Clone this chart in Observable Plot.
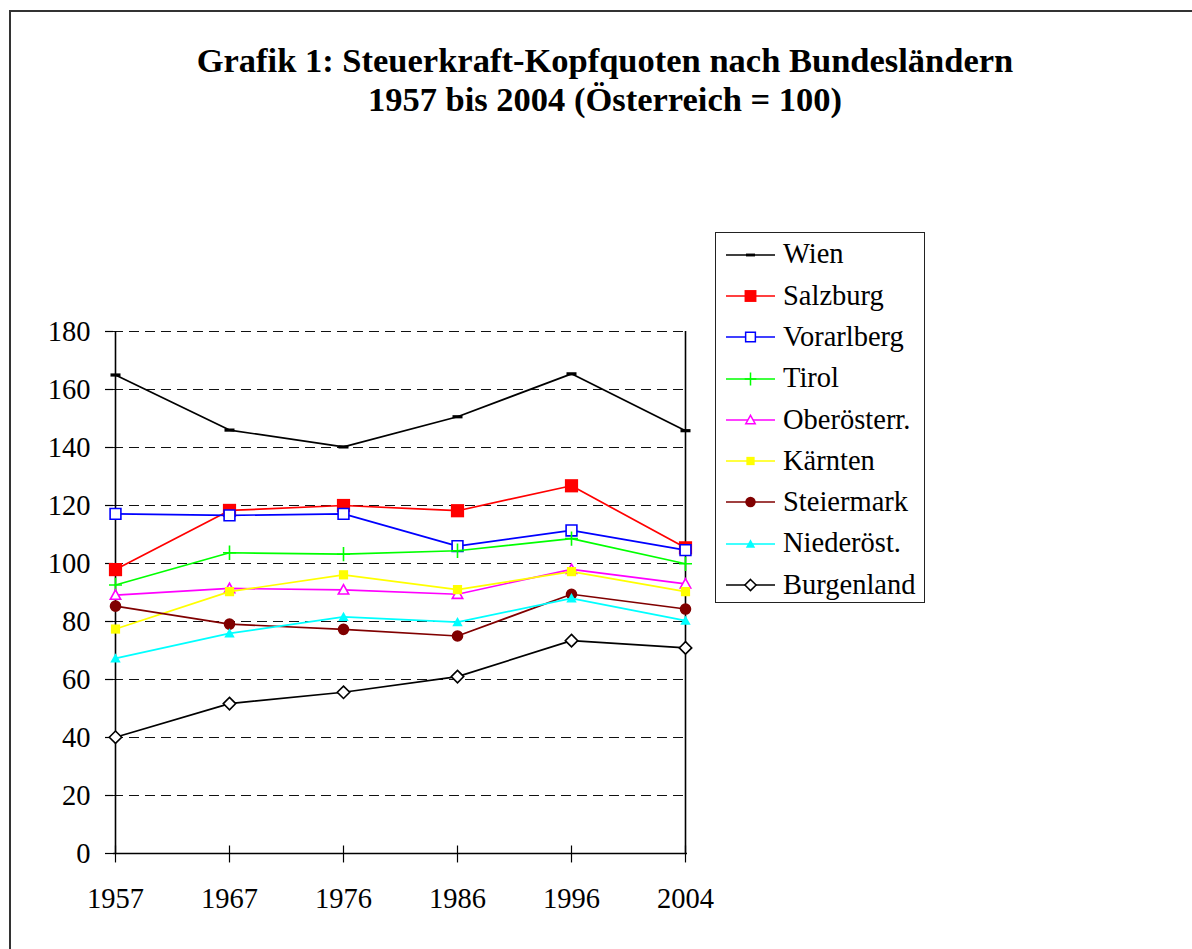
<!DOCTYPE html>
<html>
<head>
<meta charset="utf-8">
<script src="https://cdn.jsdelivr.net/npm/d3@7"></script>
<script src="https://cdn.jsdelivr.net/npm/@observablehq/plot@0.6"></script>
<style>
  html, body { margin: 0; padding: 0; background: #fff; }
  #page { position: relative; width: 1192px; height: 949px; overflow: hidden; background: #fff;
          font-family: "Liberation Serif", "Times New Roman", serif; color: #000; }
  #frame { position: absolute; left: 9px; top: 10px; width: 1300px; height: 1100px;
           border-top: 2px solid #333; border-left: 2px solid #333; }
  #title { position: absolute; left: 10px; width: 1190px; top: 41px; text-align: center;
           font-weight: bold; font-size: 34.5px; line-height: 39px; }
  #chart { position: absolute; left: 0; top: 0; }
  #legend { position: absolute; left: 715px; top: 232px; width: 210px; height: 371px;
            border: 1px solid #222; box-sizing: border-box; padding-top: 1px; background: #fff; }
  .row { display: flex; align-items: center; height: 41.3px; }
  .row svg { margin-left: 9px; flex: none; }
  .row span { margin-left: 6px; font-size: 28.5px; line-height: 1; white-space: nowrap; }
</style>
</head>
<body>
<div id="page">
  <div id="frame"></div>
  <div id="chart"></div>
  <div id="title"></div>
  <div id="legend"></div>
</div>
<script>
// ---- data ----
const titleLines = ["Grafik 1: Steuerkraft-Kopfquoten nach Bundesländern", "1957 bis 2004 (Österreich = 100)"];
const years = ["1957", "1967", "1976", "1986", "1996", "2004"];
const yTicks = [0, 20, 40, 60, 80, 100, 120, 140, 160, 180];
const seriesNames = ["Wien", "Salzburg", "Vorarlberg", "Tirol", "Oberösterr.", "Kärnten", "Steiermark", "Niederöst.", "Burgenland"];
const wien       = [165, 146, 140.2, 150.6, 165.4, 145.8];
const salzburg   = [97.9, 118.3, 120, 118.2, 126.8, 105.4];
const vorarlberg = [117.1, 116.6, 117.1, 106, 111.4, 104.6];
const tirol      = [92.6, 103.7, 103.2, 104.4, 108.6, 99.9];
const oberoest   = [89.1, 91.4, 90.9, 89.4, 98, 93];
const kaernten   = [77.4, 90.3, 96.1, 91, 97.2, 90.3];
const steiermark = [85.3, 79.1, 77.3, 75, 89.4, 84.3];
const niederoest = [67.3, 75.9, 81.6, 79.8, 88, 80.3];
const burgenland = [40.1, 51.7, 55.6, 61, 73.4, 70.9];
const seriesValues = [wien, salzburg, vorarlberg, tirol, oberoest, kaernten, steiermark, niederoest, burgenland];

// ---- styles ----
const seriesColors = ["#000000", "#ff0000", "#0000ff", "#00ff00", "#ff00ff", "#ffff00", "#800000", "#00ffff", "#000000"];
const seriesSymbols = ["dash", "square", "square", "plus", "triangle", "square", "circle", "triangle", "diamond"];
const seriesFilled = [true, true, false, false, false, true, true, true, false];
const seriesR = [5, 6.6, 5.4, 6.5, 5.2, 4.6, 5.8, 5.2, 6.2];

const shape = (f) => ({draw: (ctx, size) => f(ctx, Math.sqrt(size / Math.PI))});
const symbols = {
  dash: shape((c, r) => { c.rect(-r, -r * 0.32, 2 * r, r * 0.64); }),
  square: shape((c, r) => { c.rect(-r, -r, 2 * r, 2 * r); }),
  plus: shape((c, r) => { c.moveTo(0, -r * 1.1); c.lineTo(0, r * 1.1); c.moveTo(-r, 0); c.lineTo(r, 0); }),
  triangle: shape((c, r) => { c.moveTo(0, -r); c.lineTo(r, r * 0.8); c.lineTo(-r, r * 0.8); c.closePath(); }),
  diamond: shape((c, r) => { c.moveTo(0, -r); c.lineTo(r, 0); c.lineTo(0, r); c.lineTo(-r, 0); c.closePath(); }),
  circle: shape((c, r) => { c.moveTo(r, 0); c.arc(0, 0, r, 0, 2 * Math.PI); }),
  vtick: shape((c, r) => { c.moveTo(0, -r); c.lineTo(0, r * 1.12); })
};

// ---- build rows ----
const seriesRows = seriesNames.map((name, s) => years.map((year, i) => ({series: name, year, value: seriesValues[s][i]})));

const marks = [
  Plot.gridY(yTicks.filter(v => v > 0), {stroke: "#111", strokeOpacity: 1, strokeWidth: 1.2, strokeDasharray: "10,6"}),
  Plot.ruleY([0], {stroke: "#000", strokeWidth: 1.6}),
  Plot.ruleX([years[0], years[years.length - 1]], {stroke: "#000", strokeWidth: 1.6}),
  Plot.dot(years, {x: d => d, y: () => 0, symbol: symbols.vtick, r: 8, stroke: "#000", strokeWidth: 1.2, fill: "none"}),
  Plot.axisY({ticks: yTicks, tickSize: 8, tickPadding: 15, label: null, tickFormat: d => String(d), strokeWidth: 1.2}),
  Plot.axisX({tickSize: 0, tickPadding: 34, label: null})
];
seriesRows.forEach((rows, s) => {
  const filled = seriesFilled[s];
  const sym = seriesSymbols[s];
  marks.push(Plot.line(rows, {x: "year", y: "value", stroke: seriesColors[s], strokeWidth: 1.7}));
  marks.push(Plot.dot(rows, {
    x: "year", y: "value", symbol: symbols[sym], r: seriesR[s],
    fill: filled ? seriesColors[s] : "white",
    stroke: seriesColors[s], strokeWidth: filled ? 0 : 1.6
  }));
});

const chart = Plot.plot({
  width: 1192,
  height: 949,
  marginLeft: 113,
  marginRight: 505,
  marginTop: 331,
  marginBottom: 96,
  x: {type: "point", domain: years, padding: 0},
  y: {domain: [0, 180]},
  style: {fontFamily: "'Liberation Serif', 'Times New Roman', serif", fontSize: "28.5px", background: "transparent", color: "#000"},
  marks
});
document.getElementById("chart").appendChild(chart);

// ---- title ----
const title = d3.select("#title");
titleLines.forEach(t => title.append("div").text(t));

// ---- legend ----
const legend = d3.select("#legend");
seriesNames.forEach((name, s) => {
  const row = legend.append("div").attr("class", "row");
  const svg = row.append("svg").attr("width", 52).attr("height", 20);
  svg.append("line").attr("x1", 1).attr("x2", 50).attr("y1", 10).attr("y2", 10)
    .attr("stroke", seriesColors[s]).attr("stroke-width", 1.7);
  const p = d3.path();
  const r = seriesR[s] * 0.9;
  symbols[seriesSymbols[s]].draw(p, Math.PI * r * r);
  const filled = seriesFilled[s];
  svg.append("path").attr("d", p.toString()).attr("transform", "translate(25.5,10)")
    .attr("fill", filled ? seriesColors[s] : "white")
    .attr("stroke", seriesColors[s]).attr("stroke-width", filled ? 0 : 1.5);
  row.append("span").text(name);
});
</script>
</body>
</html>
